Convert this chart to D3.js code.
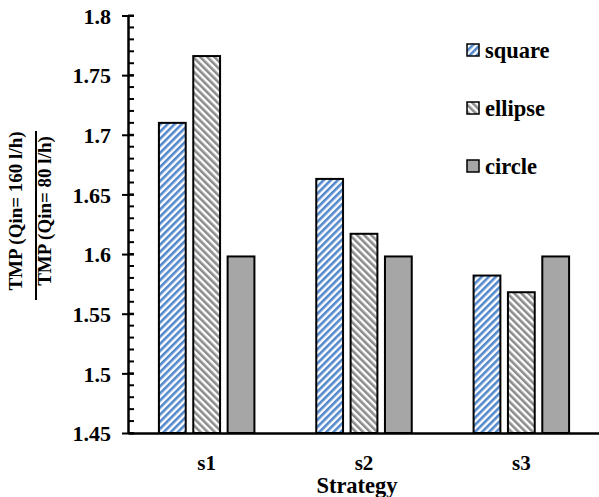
<!DOCTYPE html>
<html><head><meta charset="utf-8">
<script src="https://cdn.jsdelivr.net/npm/d3@7"></script>
<style>body{margin:0;background:#fff}svg{display:block}
svg text{font-family:"Liberation Serif";font-weight:bold;}
</style>
</head><body>
<svg id="c" width="599" height="497"></svg>
<script>
const categories = ["s1","s2","s3"];
const seriesNames = ["square","ellipse","circle"];
const square = [1.710, 1.663, 1.582];
const ellipse = [1.766, 1.617, 1.568];
const circle = [1.598, 1.598, 1.598];
const yTicks = [1.45,1.5,1.55,1.6,1.65,1.7,1.75,1.8];
const yTickLabels = ["1.45","1.5","1.55","1.6","1.65","1.7","1.75","1.8"];
const values = {square, ellipse, circle};

const svg = d3.select("#c");
const mLeft = 128, mRight = 600, mTop = 15.5, mBottom = 433;

function txt(sel, size){
  return sel.style("font-family", '"Liberation Serif"').style("font-weight","bold").style("font-size", size+"px").attr("fill","#000");
}

const defs = svg.append("defs");
function stripes(id, color, angle){
  const p = defs.append("pattern").attr("id", id).attr("patternUnits","userSpaceOnUse")
    .attr("width",5).attr("height",5).attr("patternTransform",`rotate(${angle})`);
  p.append("rect").attr("width",5).attr("height",5).attr("fill","#fff");
  p.append("rect").attr("x",0).attr("width",2.6).attr("height",5).attr("fill",color);
}
stripes("pSquare","#5388cc",45);
stripes("pEllipse","#8c8c8c",-45);
const fills = {square:"url(#pSquare)", ellipse:"url(#pEllipse)", circle:"#a6a6a6"};

const y = d3.scaleLinear().domain([1.45,1.8]).range([mBottom, mTop]);
const x0 = d3.scaleBand().domain(categories).range([mLeft, mRight]);
const x1 = d3.scaleBand().domain(seriesNames).range([0, x0.bandwidth()]).paddingInner(0.22).paddingOuter(0.9);

// bars
categories.forEach((c,i)=>{
  seriesNames.forEach(s=>{
    svg.append("rect")
      .attr("x", x0(c)+x1(s))
      .attr("y", y(values[s][i]))
      .attr("width", x1.bandwidth())
      .attr("height", y(1.45)-y(values[s][i]))
      .attr("fill", fills[s])
      .attr("stroke","#000").attr("stroke-width",2);
  });
});

// y axis minor ticks
const minor = d3.range(0,36).map(k=>1.45+k*0.01);
svg.append("g").selectAll("line").data(minor).join("line")
  .attr("x1",mLeft).attr("x2",mLeft+6)
  .attr("y1",d=>y(d)).attr("y2",d=>y(d))
  .attr("stroke","#000").attr("stroke-width",2);
const yAxis = d3.axisLeft(y).tickValues(yTicks).tickFormat((d,i)=>yTickLabels[i]).tickSize(6).tickSizeOuter(0);
const gy = svg.append("g").attr("transform",`translate(${mLeft},0)`).call(yAxis)
  .attr("font-family", null).attr("font-size", null);
gy.select(".domain").attr("stroke","#000").attr("stroke-width",2.5);
gy.selectAll(".tick line").attr("x2",-6).attr("x1",6).attr("stroke-width",2);
txt(gy.selectAll(".tick text").attr("x",-17).attr("dy","0.35em"), 22);

// x axis
const xAxis = d3.axisBottom(x0).tickSize(0).tickSizeOuter(0);
const gx = svg.append("g").attr("transform",`translate(0,${mBottom})`).call(xAxis)
  .attr("font-family", null).attr("font-size", null);
gx.select(".domain").attr("stroke","#000").attr("stroke-width",2.5);
txt(gx.selectAll(".tick text").attr("dy",0).attr("y",36.5), 21);

txt(svg.append("text").attr("x",357).attr("y",493).attr("text-anchor","middle"), 22.5).text("Strategy");

// y label as fraction
const yl = svg.append("g").attr("transform","translate(0,211) rotate(-90)");
txt(yl.append("text").attr("x",0).attr("y",22).attr("text-anchor","middle"), 19).text("TMP (Qin= 160 l/h)");
yl.append("line").attr("x1",-89).attr("x2",80).attr("y1",36).attr("y2",36).attr("stroke","#000").attr("stroke-width",2);
txt(yl.append("text").attr("x",0).attr("y",51).attr("text-anchor","middle"), 19).text("TMP (Qin= 80 l/h)");

// legend
const lg = svg.append("g");
seriesNames.forEach((s,i)=>{
  const yy = 44 + i*58;
  lg.append("rect").attr("x",467).attr("y",yy).attr("width",12).attr("height",12)
    .attr("fill",fills[s]).attr("stroke","#000").attr("stroke-width",1.5);
  txt(lg.append("text").attr("x",485).attr("y",yy+13.5), 22.5).text(s);
});
</script>
</body></html>
